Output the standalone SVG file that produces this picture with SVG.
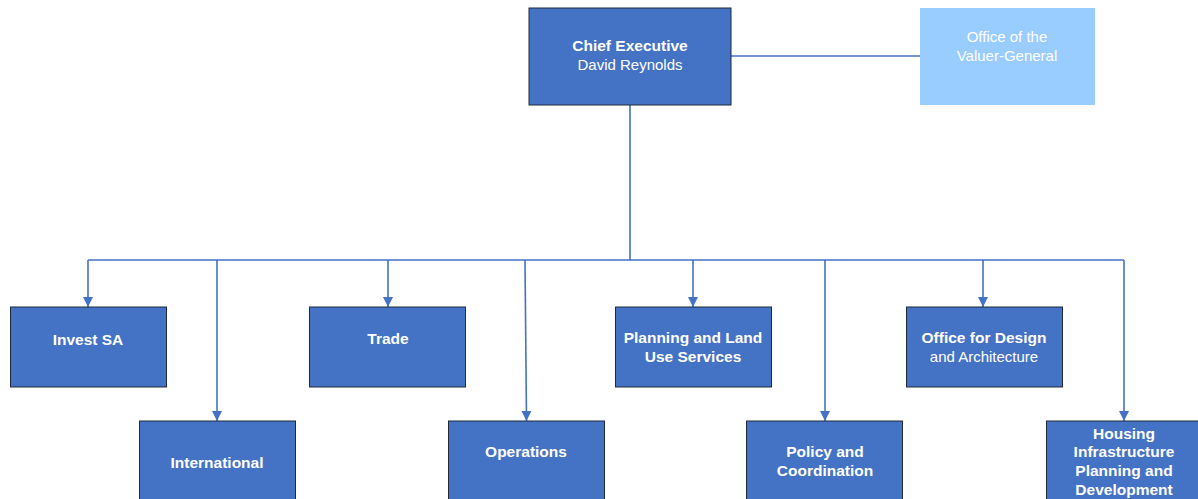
<svg xmlns="http://www.w3.org/2000/svg" width="1198" height="499" viewBox="0 0 1198 499">
<style>
.box{fill:#4472C4;stroke:#1F2A3A;stroke-width:1}
.vg{fill:#99CCFF}
.t{font-family:"Liberation Sans",Arial,sans-serif;font-size:15.5px;fill:#FFFFFF;text-anchor:middle}
.b{font-weight:bold}
.r{font-size:15px}
.c{fill:none;stroke:#4472C4;stroke-width:1.6}
</style>
<defs>
<marker id="ah" viewBox="0 0 10 10" refX="10" refY="5" markerWidth="10" markerHeight="10" markerUnits="userSpaceOnUse" orient="auto">
<path d="M0,0 L10,5 L0,10 z" fill="#4472C4"/>
</marker>
</defs>
<g id="connectors">
<line class="c" x1="731" y1="56" x2="920" y2="56"/>
<polyline class="c" points="630,105 630,260 88,260"/>
<line class="c" x1="630" y1="260" x2="1124" y2="260"/>
<line class="c" x1="88" y1="260" x2="88" y2="307" marker-end="url(#ah)"/>
<line class="c" x1="217" y1="260" x2="217" y2="421" marker-end="url(#ah)"/>
<line class="c" x1="388" y1="260" x2="388" y2="307" marker-end="url(#ah)"/>
<line class="c" x1="525" y1="260" x2="526.5" y2="421" marker-end="url(#ah)"/>
<line class="c" x1="693" y1="260" x2="693" y2="307" marker-end="url(#ah)"/>
<line class="c" x1="825" y1="260" x2="825" y2="421" marker-end="url(#ah)"/>
<polyline class="c" points="1124,260 1124,421" marker-end="url(#ah)"/>
<line class="c" x1="983" y1="260" x2="983" y2="307" marker-end="url(#ah)"/>
</g>
<g id="chief-executive">
<rect class="box" x="529" y="8" width="202" height="97"/>
<text class="t b" x="630" y="51">Chief Executive</text>
<text class="t r" x="630" y="70">David Reynolds</text>
</g>
<g id="valuer-general">
<rect class="vg" x="920" y="8" width="175" height="97"/>
<text class="t r" x="1007" y="42">Office of the</text>
<text class="t r" x="1007" y="61">Valuer-General</text>
</g>
<g id="invest-sa">
<rect class="box" x="10.5" y="307" width="156" height="80"/>
<text class="t b" x="88" y="344.5">Invest SA</text>
</g>
<g id="trade">
<rect class="box" x="309.5" y="307" width="156" height="80"/>
<text class="t b" x="388" y="343.5">Trade</text>
</g>
<g id="planning">
<rect class="box" x="615.5" y="307" width="156" height="80"/>
<text class="t b" x="693" y="342.5">Planning and Land</text>
<text class="t b" x="693" y="361.5">Use Services</text>
</g>
<g id="design">
<rect class="box" x="906.5" y="307" width="156" height="80"/>
<text class="t b" x="984" y="342.5">Office for Design</text>
<text class="t r" x="984" y="361.5">and Architecture</text>
</g>
<g id="international">
<rect class="box" x="139.5" y="421" width="156" height="85"/>
<text class="t b" x="217" y="467.5">International</text>
</g>
<g id="operations">
<rect class="box" x="448.5" y="421" width="156" height="85"/>
<text class="t b" x="526" y="456.5">Operations</text>
</g>
<g id="policy">
<rect class="box" x="746.5" y="421" width="156" height="85"/>
<text class="t b" x="825" y="456.5">Policy and</text>
<text class="t b" x="825" y="475.5">Coordination</text>
</g>
<g id="housing">
<rect class="box" x="1046.5" y="421" width="156" height="85"/>
<text class="t b" x="1124" y="438.5">Housing</text>
<text class="t b" x="1124" y="456.5">Infrastructure</text>
<text class="t b" x="1124" y="475.5">Planning and</text>
<text class="t b" x="1124" y="494.5">Development</text>
</g>
</svg>
